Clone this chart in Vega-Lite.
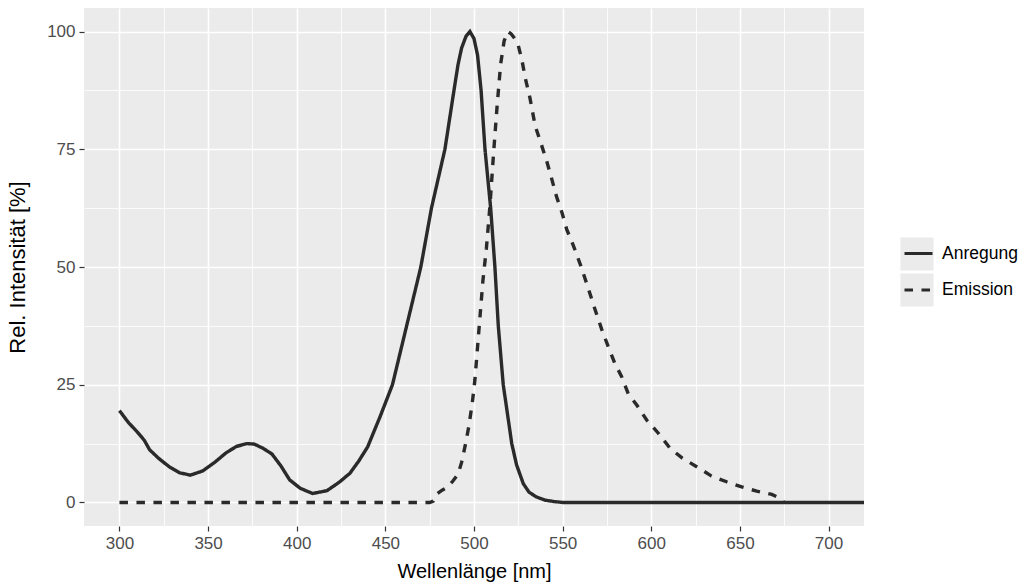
{
  "$schema": "https://vega.github.io/schema/vega-lite/v6.json",
  "autosize": {"type": "none"},
  "padding": {"left": 84, "top": 8, "right": 159, "bottom": 58},
  "width": 780,
  "height": 518,
  "view": {"fill": "#EBEBEB", "stroke": null},
  "config": {
    "font": "Liberation Sans",
    "view": {"fill": "#EBEBEB", "stroke": null},
    "axis": {
      "domain": false,
      "tickColor": "#333333",
      "tickSize": 5,
      "tickWidth": 1.2,
      "labelColor": "#4D4D4D",
      "labelFontSize": 17,
      "labelPadding": 4,
      "titleFontWeight": "normal",
      "titleColor": "#000000",
      "gridColor": "#FFFFFF",
      "gridWidth": 1.6
    }
  },
  "data": {
    "values": [
      {"wl": 300, "int": 19.5, "series": "Anregung"},
      {"wl": 302, "int": 18.5, "series": "Anregung"},
      {"wl": 305, "int": 17, "series": "Anregung"},
      {"wl": 310, "int": 15, "series": "Anregung"},
      {"wl": 314, "int": 13.2, "series": "Anregung"},
      {"wl": 317, "int": 11.2, "series": "Anregung"},
      {"wl": 322, "int": 9.4, "series": "Anregung"},
      {"wl": 328, "int": 7.6, "series": "Anregung"},
      {"wl": 334, "int": 6.3, "series": "Anregung"},
      {"wl": 340, "int": 5.8, "series": "Anregung"},
      {"wl": 347, "int": 6.7, "series": "Anregung"},
      {"wl": 354, "int": 8.6, "series": "Anregung"},
      {"wl": 360, "int": 10.5, "series": "Anregung"},
      {"wl": 366, "int": 11.9, "series": "Anregung"},
      {"wl": 372, "int": 12.5, "series": "Anregung"},
      {"wl": 376, "int": 12.4, "series": "Anregung"},
      {"wl": 381, "int": 11.5, "series": "Anregung"},
      {"wl": 386, "int": 10.3, "series": "Anregung"},
      {"wl": 391, "int": 7.8, "series": "Anregung"},
      {"wl": 396, "int": 4.8, "series": "Anregung"},
      {"wl": 402, "int": 3, "series": "Anregung"},
      {"wl": 409, "int": 1.9, "series": "Anregung"},
      {"wl": 417, "int": 2.5, "series": "Anregung"},
      {"wl": 424, "int": 4.3, "series": "Anregung"},
      {"wl": 430, "int": 6.2, "series": "Anregung"},
      {"wl": 435, "int": 8.8, "series": "Anregung"},
      {"wl": 440, "int": 11.8, "series": "Anregung"},
      {"wl": 447, "int": 18.2, "series": "Anregung"},
      {"wl": 454, "int": 25, "series": "Anregung"},
      {"wl": 462, "int": 37.5, "series": "Anregung"},
      {"wl": 470, "int": 50, "series": "Anregung"},
      {"wl": 476, "int": 62.5, "series": "Anregung"},
      {"wl": 483.6, "int": 75, "series": "Anregung"},
      {"wl": 488.7, "int": 87.5, "series": "Anregung"},
      {"wl": 491, "int": 93, "series": "Anregung"},
      {"wl": 493, "int": 96.5, "series": "Anregung"},
      {"wl": 495.5, "int": 99, "series": "Anregung"},
      {"wl": 497.7, "int": 100, "series": "Anregung"},
      {"wl": 500, "int": 98.5, "series": "Anregung"},
      {"wl": 502, "int": 95, "series": "Anregung"},
      {"wl": 504, "int": 87.5, "series": "Anregung"},
      {"wl": 506.2, "int": 75, "series": "Anregung"},
      {"wl": 509.4, "int": 62.5, "series": "Anregung"},
      {"wl": 511.8, "int": 50, "series": "Anregung"},
      {"wl": 513.7, "int": 37.5, "series": "Anregung"},
      {"wl": 516.5, "int": 25, "series": "Anregung"},
      {"wl": 521.3, "int": 12.5, "series": "Anregung"},
      {"wl": 524, "int": 8, "series": "Anregung"},
      {"wl": 527.8, "int": 4, "series": "Anregung"},
      {"wl": 531, "int": 2.2, "series": "Anregung"},
      {"wl": 535, "int": 1.2, "series": "Anregung"},
      {"wl": 540, "int": 0.5, "series": "Anregung"},
      {"wl": 545, "int": 0.2, "series": "Anregung"},
      {"wl": 550, "int": 0, "series": "Anregung"},
      {"wl": 720, "int": 0, "series": "Anregung"},
      {"wl": 300, "int": 0, "series": "Emission"},
      {"wl": 475, "int": 0, "series": "Emission"},
      {"wl": 477, "int": 0.3, "series": "Emission"},
      {"wl": 479, "int": 1.8, "series": "Emission"},
      {"wl": 482, "int": 2.6, "series": "Emission"},
      {"wl": 485, "int": 3.2, "series": "Emission"},
      {"wl": 488, "int": 4.5, "series": "Emission"},
      {"wl": 491, "int": 6, "series": "Emission"},
      {"wl": 493, "int": 8.5, "series": "Emission"},
      {"wl": 495, "int": 12, "series": "Emission"},
      {"wl": 497, "int": 16, "series": "Emission"},
      {"wl": 499, "int": 21, "series": "Emission"},
      {"wl": 500.5, "int": 26, "series": "Emission"},
      {"wl": 502, "int": 33, "series": "Emission"},
      {"wl": 503.5, "int": 40, "series": "Emission"},
      {"wl": 505, "int": 47, "series": "Emission"},
      {"wl": 507, "int": 54, "series": "Emission"},
      {"wl": 509, "int": 63, "series": "Emission"},
      {"wl": 511, "int": 74, "series": "Emission"},
      {"wl": 513, "int": 84, "series": "Emission"},
      {"wl": 515, "int": 93, "series": "Emission"},
      {"wl": 517, "int": 98, "series": "Emission"},
      {"wl": 519, "int": 100, "series": "Emission"},
      {"wl": 521, "int": 99.5, "series": "Emission"},
      {"wl": 523, "int": 98.5, "series": "Emission"},
      {"wl": 525, "int": 97, "series": "Emission"},
      {"wl": 527, "int": 94, "series": "Emission"},
      {"wl": 529, "int": 90, "series": "Emission"},
      {"wl": 531.5, "int": 86, "series": "Emission"},
      {"wl": 534.5, "int": 80, "series": "Emission"},
      {"wl": 538, "int": 76, "series": "Emission"},
      {"wl": 541, "int": 72.5, "series": "Emission"},
      {"wl": 544, "int": 68.5, "series": "Emission"},
      {"wl": 546.5, "int": 65, "series": "Emission"},
      {"wl": 549.5, "int": 61.7, "series": "Emission"},
      {"wl": 552.3, "int": 58, "series": "Emission"},
      {"wl": 556, "int": 54.6, "series": "Emission"},
      {"wl": 560, "int": 50.5, "series": "Emission"},
      {"wl": 564, "int": 46, "series": "Emission"},
      {"wl": 568, "int": 41.3, "series": "Emission"},
      {"wl": 572, "int": 36.8, "series": "Emission"},
      {"wl": 575.8, "int": 33, "series": "Emission"},
      {"wl": 579.5, "int": 29.5, "series": "Emission"},
      {"wl": 583.3, "int": 26.7, "series": "Emission"},
      {"wl": 587, "int": 23.1, "series": "Emission"},
      {"wl": 591.8, "int": 20.7, "series": "Emission"},
      {"wl": 597.4, "int": 17.5, "series": "Emission"},
      {"wl": 604, "int": 14.7, "series": "Emission"},
      {"wl": 610.6, "int": 11.5, "series": "Emission"},
      {"wl": 617.5, "int": 9.4, "series": "Emission"},
      {"wl": 625.6, "int": 7.6, "series": "Emission"},
      {"wl": 634, "int": 5.6, "series": "Emission"},
      {"wl": 642.5, "int": 4.4, "series": "Emission"},
      {"wl": 651, "int": 3.3, "series": "Emission"},
      {"wl": 659.5, "int": 2.4, "series": "Emission"},
      {"wl": 668, "int": 1.7, "series": "Emission"},
      {"wl": 672, "int": 1, "series": "Emission"},
      {"wl": 675, "int": 0, "series": "Emission"}
    ]
  },
  "layer": [
    {
      "transform": [{"filter": "false"}],
      "mark": {"type": "line", "strokeOpacity": 0},
      "encoding": {
        "x": {
          "field": "wl", "type": "quantitative",
          "scale": {"domain": [280, 720], "nice": false, "zero": false},
          "axis": {"orient": "top", "grid": true, "values": [325, 375, 425, 475, 525, 575, 625, 675], "labels": false, "ticks": false, "title": null, "gridWidth": 0.8}
        },
        "y": {
          "field": "int", "type": "quantitative",
          "scale": {"domain": [-5, 105], "nice": false, "zero": false},
          "axis": {"orient": "right", "grid": true, "values": [12.5, 37.5, 62.5, 87.5], "labels": false, "ticks": false, "title": null, "gridWidth": 0.8}
        }
      }
    },
    {
      "mark": {"type": "line", "strokeWidth": 3.4, "strokeCap": "butt"},
      "encoding": {
        "x": {
          "field": "wl", "type": "quantitative",
          "scale": {"domain": [280, 720], "nice": false, "zero": false},
          "axis": {"orient": "bottom", "grid": true, "values": [300, 350, 400, 450, 500, 550, 600, 650, 700], "title": "Wellenlänge [nm]", "titleFontSize": 20, "titlePadding": 10}
        },
        "y": {
          "field": "int", "type": "quantitative",
          "scale": {"domain": [-5, 105], "nice": false, "zero": false},
          "axis": {"orient": "left", "grid": true, "values": [0, 25, 50, 75, 100], "title": "Rel. Intensität [%]", "titleFontSize": 22, "titlePadding": 17}
        },
        "color": {
          "field": "series", "type": "nominal",
          "scale": {"domain": ["Anregung", "Emission"], "range": ["#2A2A2A", "#2A2A2A"]},
          "legend": {"title": null, "orient": "none", "legendX": 819, "legendY": 230, "symbolType": "stroke", "symbolSize": 784, "symbolStrokeWidth": 3, "labelFontSize": 17.5, "labelColor": "#000000", "labelOffset": 8, "rowPadding": 12.5, "padding": 0, "zindex": 1}
        },
        "strokeDash": {
          "field": "series", "type": "nominal",
          "scale": {"domain": ["Anregung", "Emission"], "range": [[1, 0], [8.5, 8.5]]},
          "legend": {"title": null, "orient": "none", "legendX": 819, "legendY": 230, "symbolType": "stroke", "symbolSize": 784, "symbolStrokeWidth": 3, "labelFontSize": 17.5, "labelColor": "#000000", "labelOffset": 8, "rowPadding": 12.5, "padding": 0, "zindex": 1}
        }
      }
    },
    {
      "transform": [{"filter": "false"}],
      "mark": {"type": "square"},
      "encoding": {
        "fill": {
          "field": "series", "type": "nominal",
          "scale": {"domain": ["key1", "key2"], "range": ["#EBEBEB", "#EBEBEB"]},
          "legend": {"title": null, "orient": "none", "legendX": 816, "legendY": 229, "symbolType": "square", "symbolSize": 1100, "symbolStrokeWidth": 0, "symbolOpacity": 1, "labelExpr": "''", "labelFontSize": 17.5, "rowPadding": 2, "padding": 0, "zindex": 0}
        }
      }
    }
  ],
  "resolve": {"axis": {"x": "independent", "y": "independent"}}
}
